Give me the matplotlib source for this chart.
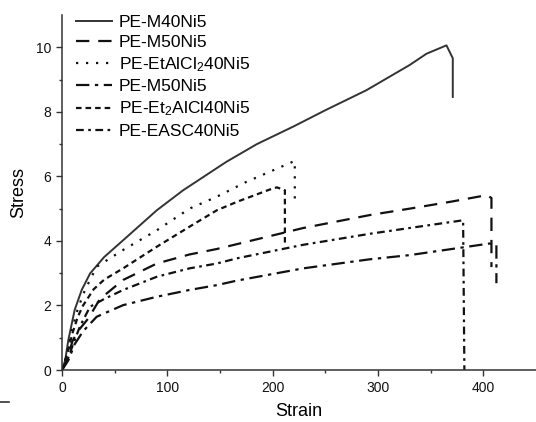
import matplotlib
matplotlib.use("Agg")
import matplotlib.pyplot as plt
from matplotlib.lines import Line2D

plt.rcParams['font.family'] = ['Liberation Sans', 'DejaVu Sans']
plt.rcParams['mathtext.fontset'] = 'custom'
plt.rcParams['mathtext.rm'] = 'Liberation Sans'
plt.rcParams['mathtext.it'] = 'Liberation Sans'

# stress-strain curves
strain_m40 = [0, 3, 6, 12, 18.7, 26.6, 40, 58, 90, 115, 156, 185, 220, 250, 289, 330, 346, 365, 371, 371]
stress_m40 = [0, 0.3, 0.93, 1.86, 2.48, 2.99, 3.5, 4.02, 4.95, 5.57, 6.45, 7.0, 7.55, 8.05, 8.67, 9.45, 9.8, 10.06, 9.66, 8.46]

strain_m50 = [0, 5, 10, 15, 25, 36, 58, 90, 121, 147, 166, 229, 292, 330, 370, 403.5, 407.7, 407.7]
stress_m50 = [0, 0.35, 0.9, 1.2, 1.6, 2.2, 2.79, 3.3, 3.58, 3.75, 3.9, 4.4, 4.8, 5.0, 5.22, 5.42, 5.33, 3.19]

strain_etalcl2 = [0, 4, 9, 15, 21.8, 32.9, 58, 90, 121, 147, 175, 197, 221, 221]
stress_etalcl2 = [0, 0.4, 1.2, 1.9, 2.48, 3.2, 3.72, 4.33, 5.0, 5.37, 5.83, 6.14, 6.48, 5.26]

strain_m50b = [0, 6, 12, 20, 32.9, 58, 90, 121, 147, 166, 229, 292, 330, 406, 412.4, 412.4]
stress_m50b = [0, 0.3, 0.8, 1.2, 1.65, 2.01, 2.27, 2.48, 2.63, 2.77, 3.15, 3.43, 3.56, 3.92, 3.87, 2.69]

strain_et2alcl = [0, 5, 10, 15, 20, 30, 40, 58, 90, 121, 147, 166, 197, 204, 211.6, 211.6]
stress_et2alcl = [0, 0.5, 1.15, 1.65, 2.0, 2.5, 2.8, 3.15, 3.82, 4.44, 4.95, 5.21, 5.59, 5.66, 5.57, 3.87]

strain_easc = [0, 5, 10, 17, 26.6, 40, 58, 90, 121, 147, 166, 229, 292, 330, 380.8, 382]
stress_easc = [0, 0.3, 0.75, 1.35, 1.96, 2.2, 2.48, 2.89, 3.15, 3.3, 3.46, 3.88, 4.22, 4.4, 4.64, 0]

labels = ['PE-M40Ni5', 'PE-M50Ni5', 'PE-EtAlCl$_2$40Ni5', 'PE-M50Ni5',
          'PE-Et$_2$AlCl40Ni5', 'PE-EASC40Ni5']

fig = plt.figure(figsize=(5.36, 4.22), dpi=100)
ax = fig.add_axes([0.1157, 0.1232, 0.8843, 0.8412])

ax.plot(strain_m40, stress_m40, color='#333333', lw=1.4, ls='-', label=labels[0])
ax.plot(strain_m50, stress_m50, color='#111111', lw=1.6, ls=(0, (6, 4)), label=labels[1])
ax.plot(strain_etalcl2, stress_etalcl2, color='#111111', lw=1.6, ls=(0, (1, 3.5)), label=labels[2])
ax.plot(strain_m50b, stress_m50b, color='#111111', lw=1.6, ls=(0, (6, 2.5, 1.5, 2.5)), label=labels[3])
ax.plot(strain_et2alcl, stress_et2alcl, color='#111111', lw=1.6, ls=(0, (2.5, 1.8)), label=labels[4])
ax.plot(strain_easc, stress_easc, color='#111111', lw=1.6, ls=(0, (3.5, 2, 1.2, 2)), label=labels[5])

ax.set_xlim(0, 450)
ax.set_ylim(0, 11)
ax.set_xticks([0, 100, 200, 300, 400])
ax.set_xticks([50, 150, 250, 350], minor=True)
ax.set_yticks([0, 2, 4, 6, 8, 10])
ax.set_yticks([1, 3, 5, 7, 9], minor=True)

for s in ['top', 'right']:
    ax.spines[s].set_visible(False)
for s in ['left', 'bottom']:
    ax.spines[s].set_color('#333333')
    ax.spines[s].set_linewidth(1.1)

ax.tick_params(which='major', direction='out', length=4.5, width=1, colors='#333333',
               labelsize=10, labelcolor='#111111')
ax.tick_params(which='minor', direction='out', length=2.5, width=1, colors='#333333')

ax.set_xlabel('Strain', fontsize=13, labelpad=6)
ax.set_ylabel('Stress', fontsize=13, labelpad=6)

ax.legend(loc='upper left', bbox_to_anchor=(0.0, 1.04), frameon=False, fontsize=12.5,
          handlelength=2.1, handletextpad=0.38, labelspacing=0.3, borderpad=0.3)

# small stray mark at lower left of the original figure
fig.add_artist(Line2D([0, 9 / 536], [1 - 402 / 422, 1 - 402 / 422], color='#333333', lw=1.2))

fig.savefig('out.png', dpi=100)
